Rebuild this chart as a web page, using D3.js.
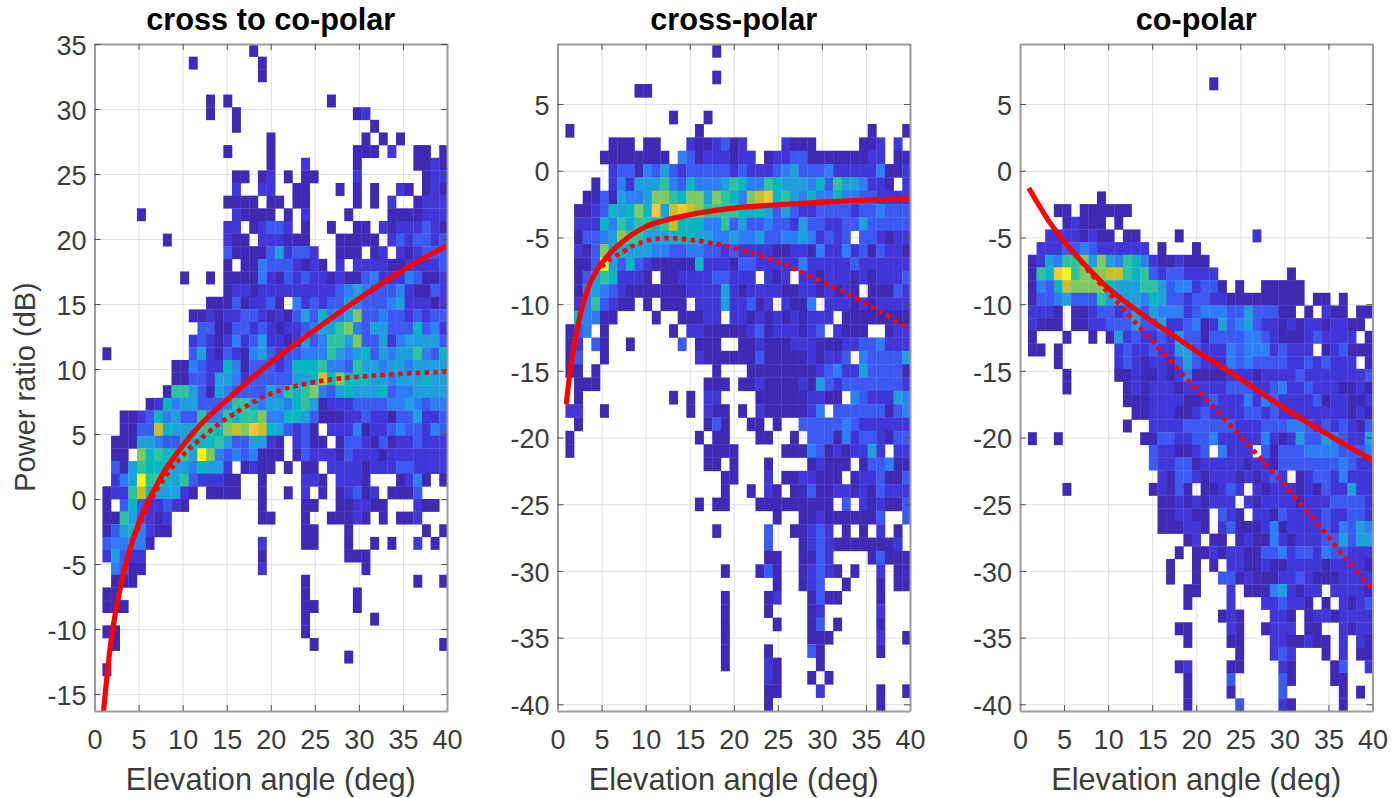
<!DOCTYPE html>
<html>
<head>
<meta charset="utf-8">
<script src="https://cdn.jsdelivr.net/npm/d3@7"></script>
<style>
body { margin: 0; background: #fff; }
text { font-family: "Liberation Sans", Arial, sans-serif; }
</style>
</head>
<body>
<svg width="1391" height="798"></svg>
<script>
// binned counts, 40 columns per row, top row first
// . = empty cell, 1..9,a,b = colour level (dark blue to yellow)
const crossToCoRows = [
"..... ..... ..... ..1.. ..... ..... ..... .....",
"..... ..... 1.... ...1. ..... ..... ..... .....",
"..... ..... ..... ...1. ..... ..... ..... .....",
"..... ..... ..... ..... ..... ..... ..... .....",
"..... ..... ..1.1 ..... ..... .1... ..... .....",
"..... ..... ..1.. 1.... ..... ....1 2.... .....",
"..... ..... ..... 1.... ..... ..... .1... .....",
"..... ..... ..... ....1 ..... ..... 1.1.1 .....",
"..... ..... ....1 ....1 ..... ....1 11.2. .11.1",
"..... ..... ..... ....1 ...2. ....1 ..... .1121",
"..... ..... ..... 11.12 .1.11 ....2 ..... ..122",
"..... ..... ..... 2..22 ..11. ..1.1 .1..2 1.121",
"..... ..... ....1 111.1 1.11. ....1 .1.2. .1222",
"....1 ..... ..... 21111 .1.2. ...1. ...11 11222",
"..... ..... ....2 2.123 32.1. .1..1 1.212 22321",
"..... ..1.. ....2 11.22 2111. ..111 11.23 23323",
"..... ..... ....3 11113 52332 ..111 .12.2 12333",
"..... ..... ....1 .1143 33212 1.2.2 22211 22223",
"..... ....1 ..1.1 11142 13232 21211 34222 43112",
"..... ..... ....1 22122 22222 22345 43334 21132",
"..... ..... ..111 31223 1.423 23354 33345 22212",
"..... ..... 11212 23321 21353 64458 33433 23233",
"..... ..... .3311 33232 12234 55784 35533 36342",
"..... ..... 23212 42352 21253 47758 33524 55553",
"1.... ..... 35213 21453 23344 47545 63545 57436",
"..... ...11 43226 41333 23666 74437 55455 45555",
"..... ...11 33255 42333 33556 96866 65545 55655",
"..... ..177 53154 33335 47678 43565 55634 45555",
"..... 12645 53334 77545 54675 12223 33344 54344",
"..112 36453 37447 67784 46653 11122 32213 35223",
"..113 39655 57768 98a96 53231 .2224 12234 33243",
".1115 54335 66675 33552 1.231 1.133 21312 23222",
".11.8 67667 5b843 43411 1.132 22132 22122 22222",
".3157 66655 46552 .1211 .1.11 .2222 12223 32222",
".245b 77657 32221 1..1. ...22 1.222 1...1 241.1",
"12279 65552 1.111 1..1. .1.2. 1.123 12.11 13...",
"1.363 22321 ..... ...1. ...11 ..112 211.. .211.",
"11753 212.. ..... ...11 ...1. .1112 1.1.1 12...",
"13564 211.. ..... ..... ...11 ...1. ..... ..1.1",
"34444 1.... ..... ...2. ...11 ...1. .1.1. .2.1.",
"25322 ..... ..... ...1. ..... ...11 1.... .....",
".4311 ..... ..... ...2. ..... ..... 1.... .....",
".111. ..... ..... ..... ...1. ..... ..... .1..1",
"11... ..... ..... ..... ...1. ....1 ..... .....",
"111.. ..... ..... ..... ...11 ....1 ..... .....",
"..... ..... ..... ..... ...1. ..... .1... .....",
"11... ..... ..... ..... ...1. ..... ..... .....",
".1... ..... ..... ..... ....1 ..... ..... ....1",
"..... ..... ..... ..... ..... ...1. ..... .....",
"1.... ..... ..... ..... ..... ..... ..... ....."
];

const crossPolarRows = [
"..... ..... ..... ..1.. ..... ..... ..... .....",
"..... ..... ..... ..... ..... ..... ..... .....",
"..... ..... ..... ..1.. ..... ..... ..... .....",
"..... ...11 ..... ..... ..... ..... ..... .....",
"..... ..... ..... ..... ..... ..... ..... .....",
"..... ..... ..1.. .1... ..... ..... ..... .....",
"1.... ..... ..... 1.... ..... ..... ..... 1...1",
"..... 111.1 1...2 11231 2.... 2111. ....1 12.2.",
"....1 11111 11.43 12221 22.12 23311 11111 22.11",
"..... 23314 35323 33332 32223 45333 42222 24112",
"...1. 24255 57436 44457 64476 55546 37554 221.2",
"..113 15445 88768 85876 489a6 75464 46443 32222",
".1123 65686 a59a9 87777 66653 53223 33323 34333",
".2226 47577 67966 64473 53343 32533 22335 33333",
".1334 58775 55666 55445 44533 44542 323.3 32122",
".2138 56555 44334 43323 22221 12214 22423 13221",
".113b 53632 11111 62221 33222 22422 22232 22222",
".1357 62221 .1122 22332 22.21 2.221 22212 12223",
".1454 32111 11112 22252 12222 11221 2121. 11132",
".2473 211.1 .111. 22252 2312. 2114. 22212 12222",
".6441 1.... 1..11 122.2 21212 12122 2.111 11111",
"134.1 ..... ..1.2 21111 12312 22123 .2111 ..122",
"12.31 ..1.. ...3. 111.. 11211 12221 11223 34222",
"13..1 ..... ..... 21111 11311 11121 223.4 33335",
"11.1. ..... ..... ..1.. .1111 11112 34225 33331",
".111. ..... ..... .111. 11211 11215 32333 33332",
".1... ..... ..1.1 .22.. ..111 11122 11.43 22254",
"22..1 ..... ....1 .211. 1.211 11124 .3333 33134",
".1... ..... ..... .131. .11.1 ..333 33432 22222",
"1.... ..... ..... 1.11. ..11. .1.33 31423 32133",
"1.... ..... ..... .1111 ..... 11143 12122 52.22",
"..... ..... ..... .11.1 ...1. ...12 111.1 33411",
"..... ..... ..... ...11 ...2. 11221 11.12 23113",
"..... ..... ..... ...1. .1.21 .1131 12212 13222",
"..... ..... ..... 1.11. ..111 11111 1.3.2 12113",
"..... ..... ..... ..... ....1 ..112 11111 13..3",
"..... ..... ..... ..1.. ...3. .1123 2.1.1 .2.1.",
"..... ..... ..... ..... ...3. ..123 21111 1112.",
"..... ..... ..... ..... ...11 ..113 2.... 13111",
"..... ..... ..... ...1. ..131 ..123 21.1. .2.11",
"..... ..... ..... ..... ....1 ..123 ..1.. .1.11",
"..... ..... ..... ...1. ...12 ...13 11... .1...",
"..... ..... ..... ...1. ...1. ...12 ..... .2...",
"..... ..... ..... ...1. ....1 ...13 .1... .1...",
"..... ..... ..... ...1. ..... ...11 1.... .2..1",
"..... ..... ..... ...1. ...1. ...31 ..... .1...",
"..... ..... ..... ...1. ...21 ....1 ..... .....",
"..... ..... ..... ..... ...21 ...1. 1.... .....",
"..... ..... ..... ..... ...11 ....2 ..... .1..1",
"..... ..... ..... ..... ...1. ..... ..... .1..."
];

const coPolarRows = [
"..... ..... ..... ..... ..... ..... ..... .....",
"..... ..... ..... ..... ..... ..... ..... .....",
"..... ..... ..... ..... .1... ..... ..... .....",
"..... ..... ..... ..... ..... ..... ..... .....",
"..... ..... ..... ..... ..... ..... ..... .....",
"..... ..... ..... ..... ..... ..... ..... .....",
"..... ..... ..... ..... ..... ..... ..... .....",
"..... ..... ..... ..... ..... ..... ..... .....",
"..... ..... ..... ..... ..... ..... ..... .....",
"..... ..... ..... ..... ..... ..... ..... .....",
"..... ..... ..... ..... ..... ..... ..... .....",
"..... ...1. ..... ..... ..... ..... ..... .....",
"...11 .1111 11... ..... ..... ..... ..... .....",
"....1 2111. 1.... ..... ..... ..... ..... .....",
"..222 21211 .11.. ..1.. ..... .2... ..... .....",
".2223 34322 2222. 1...1 ..... ..... ..... .....",
"12547 78585 47642 11211 1.... ..... ..... .....",
"176ab 78889 97673 23322 22... ..... 1.... .....",
"14369 88886 55577 53442 331.1 ..111 11... .....",
"13345 33375 55546 53323 32211 11111 11.11 .1...",
"2221. 11233 23535 44423 44433 53331 1.1.2 11.11",
"2111. 11223 33533 52234 12534 53221 21221 2211.",
"1...1 ..1.1 52322 32533 13333 44321 11232 222.1",
"11.1. ..... 23223 22553 22243 44423 222.1 23111",
"...1. ..... 23212 21353 22243 43333 22323 222.1",
"....1 ..... 11211 21241 11122 21222 23222 22223",
"....1 ..... .1212 22122 22233 32234 22322 21121",
"..... ..... .1112 22211 23222 42432 22231 22112",
"..... ..... ..112 22112 32222 33232 22222 22121",
"..... ..... .1..2 22233 33332 22333 44323 23213",
"1..1. ..... ...11 33223 34222 22421 25335 43225",
"..... ..... ....3 22112 3.422 2.313 33444 43334",
"..... ..... ....3 22331 22222 12213 33333 34322",
"..... ..... ..... 21332 12221 21232 .1233 24222",
"....1 ..... ....1 2131. 11232 .2122 21213 22522",
"..... ..... ..... 11212 1222. 21222 21222 33332",
"..... ..... ..... 11221 1.321 .2213 22223 22332",
"..... ..... ..... 11122 1.231 11241 22223 24354",
"..... ..... ..... ...12 .11.1 21142 12223 35355",
"..... ..... ..... ..1.1 12122 11334 23324 33222",
"..... ..... ..... .1..1 .1.22 11211 22221 22221",
"..... ..... ..... .1..1 ..331 21112 23211 12222",
"..... ..... ..... ...11 ...2. 11145 2122. 22221",
"..... ..... ..... ...1. ...2. ..223 221.1 .2123",
"..... ..... ..... ..... ..121 ...22 1.122 12222",
"..... ..... ..... ..11. ...21 ..122 2.11. .2122",
"..... ..... ..... ...1. ...11 ...22 11211 .2.21",
"..... ..... ..... ..... ....1 ...23 2...1 .2.11",
"..... ..... ..... ..12. ...11 ....2 1.... 13..2",
"..... ..... ..... ...1. ...3. ....3 1.... 11...",
"..... ..... ..... ...1. ...1. ....3 ..... .1.1.",
"..... ..... ..... ...1. ....3 ....2 1.... .1..."
];

// fitted curves, [elevation, dB]
const crossToCoSolid = [[1,-16.5],[2,-10.3],[3,-6.6],[4,-3.9],[5,-1.9],[6,-0.3],[7,1],[8,2.2],[9,3.2],[10,4.1],[12,5.7],[15,7.6],[20,10.5],[25,13],[30,15.4],[35,17.6],[40,19.5]];
const crossToCoDotted = [[4.4,-3],[5.75,-1.1],[6.9,0.5],[7.9,1.6],[8.9,2.5],[10.2,3.5],[11.8,4.5],[15,6.2],[20,8.1],[25,9],[31.7,9.5],[40,9.8]];
const crossPolarSolid = [[1,-17.5],[1.4,-15.2],[2,-12.7],[2.95,-9.9],[4,-8],[5,-6.95],[6.7,-5.7],[10,-4.2],[15,-3.3],[20,-2.8],[25,-2.55],[30,-2.35],[35,-2.2],[40,-2.1]];
const crossPolarDotted = [[5,-7.2],[5.6,-6.8],[7.1,-6.2],[8.8,-5.55],[10.5,-5.2],[12.4,-5.05],[14.7,-5.15],[17.7,-5.45],[21.5,-6.05],[24.9,-6.8],[27.2,-7.45],[30.6,-8.5],[33.4,-9.4],[37,-10.7],[40,-11.9]];
const coPolarSolid = [[1,-1.3],[3.2,-3.7],[5,-5.3],[7,-6.8],[10,-8.8],[12.5,-10.1],[15,-11.3],[17.5,-12.4],[20,-13.5],[25,-15.6],[30,-17.8],[35,-19.8],[40,-21.7]];
const coPolarDotted = [[5,-5.3],[6.4,-6.4],[8.3,-7.9],[10.4,-9.4],[12.5,-10.95],[15.2,-12.9],[18,-14.95],[20.8,-16.9],[22.9,-18.4],[25,-19.9],[27,-21.35],[29,-22.8],[31.1,-24.4],[33.7,-26.4],[36.9,-29],[40,-31.4]];

const xTicks = [0, 5, 10, 15, 20, 25, 30, 35, 40];
const yTicksRatio = [-15, -10, -5, 0, 5, 10, 15, 20, 25, 30, 35];
const yTicksPower = [-40, -35, -30, -25, -20, -15, -10, -5, 0, 5];

const panels = [
    { title: "cross to co-polar", rows: crossToCoRows, solid: crossToCoSolid, dotted: crossToCoDotted,
      left: 94.5, right: 447, yDomain: [-16.3, 35], yTicks: yTicksRatio, rowTop: 35, rowStep: 0.972 },
    { title: "cross-polar", rows: crossPolarRows, solid: crossPolarSolid, dotted: crossPolarDotted,
      left: 557.5, right: 910, yDomain: [-40.5, 9.5], yTicks: yTicksPower, rowTop: 9.5, rowStep: 1 },
    { title: "co-polar", rows: coPolarRows, solid: coPolarSolid, dotted: coPolarDotted,
      left: 1020, right: 1372.5, yDomain: [-40.5, 9.5], yTicks: yTicksPower, rowTop: 8.9, rowStep: 0.95 }
];

const top_ = 44, bottom = 711;
const colBinStart = 0.9, colBinStep = 0.98;

// parula-like ramp
const parula = d3.scaleLinear()
    .domain([1, 2, 3, 4, 5, 6, 7, 8, 9, 10, 11])
    .range(["#3e2ab4", "#4136d6", "#3d5af0", "#2e7ef6", "#1fa0dc", "#08b6c2", "#2ec39c", "#80c960", "#c8bf2e", "#fcc63a", "#f9fb15"]);

const svg = d3.select("svg");
const fontColor = "#3c3c3c";

panels.forEach((p, i) => {
    const x = d3.scaleLinear().domain([0, 40]).range([p.left, p.right]);
    const y = d3.scaleLinear().domain(p.yDomain).range([bottom, top_]);
    const g = svg.append("g");

    g.append("clipPath").attr("id", "clip" + i)
        .append("rect")
        .attr("x", p.left).attr("y", top_)
        .attr("width", p.right - p.left).attr("height", bottom - top_);

    /* ----------- grid ----------- */
    const grid = g.append("g").attr("class", "grid");
    grid.append("g")
        .attr("transform", `translate(0,${bottom})`)
        .call(d3.axisBottom(x).tickValues(xTicks).tickSize(top_ - bottom).tickFormat(""));
    grid.append("g")
        .attr("transform", `translate(${p.left},0)`)
        .call(d3.axisLeft(y).tickValues(p.yTicks).tickSize(p.left - p.right).tickFormat(""));
    grid.selectAll(".domain").remove();
    grid.selectAll("line").attr("stroke", "#e2e2e2").attr("stroke-width", 1);

    /* ----------- cells ----------- */
    const cells = [];
    p.rows.forEach((row, r) => {
        row.replace(/ /g, "").split("").forEach((ch, c) => {
            if (ch !== ".") cells.push({ r: r, c: c, v: parseInt(ch, 16) });
        });
    });
    g.append("g").attr("clip-path", `url(#clip${i})`)
        .selectAll("rect").data(cells).enter().append("rect")
        .attr("x", d => x(colBinStart + d.c * colBinStep))
        .attr("y", d => y(p.rowTop - d.r * p.rowStep))
        .attr("width", x(colBinStep) - x(0) + 0.3)
        .attr("height", y(0) - y(p.rowStep) + 0.3)
        .attr("fill", d => parula(d.v));

    /* ----------- curves ----------- */
    const line = d3.line().x(d => x(d[0])).y(d => y(d[1])).curve(d3.curveCatmullRom.alpha(0.5));
    const curves = g.append("g").attr("clip-path", `url(#clip${i})`);
    curves.append("path").datum(p.dotted)
        .attr("d", line).attr("fill", "none").attr("stroke", "#ff0000")
        .attr("stroke-width", 4.6).attr("stroke-dasharray", "4.4 4.4");
    curves.append("path").datum(p.solid)
        .attr("d", line).attr("fill", "none").attr("stroke", "#ff0000")
        .attr("stroke-width", 5.2);

    /* ----------- axes ----------- */
    const styleAxis = sel => {
        sel.selectAll(".domain").attr("stroke", "#9c9c9c").attr("stroke-width", 2);
        sel.selectAll("line").attr("stroke", "#505050");
        sel.selectAll("text").attr("fill", fontColor).attr("font-size", 27);
    };
    g.append("g").attr("transform", `translate(0,${bottom})`)
        .call(d3.axisBottom(x).tickValues(xTicks).tickSize(-6).tickPadding(19).tickSizeOuter(0))
        .call(styleAxis);
    g.append("g").attr("transform", `translate(0,${top_})`)
        .call(d3.axisTop(x).tickValues(xTicks).tickSize(-6).tickFormat("").tickSizeOuter(0))
        .call(styleAxis);
    g.append("g").attr("transform", `translate(${p.left},0)`)
        .call(d3.axisLeft(y).tickValues(p.yTicks).tickSize(-6).tickPadding(8).tickSizeOuter(0))
        .call(styleAxis)
        .selectAll("text").attr("dy", "0.38em");
    g.append("g").attr("transform", `translate(${p.right},0)`)
        .call(d3.axisRight(y).tickValues(p.yTicks).tickSize(-6).tickFormat("").tickSizeOuter(0))
        .call(styleAxis);
    g.selectAll("text").each(function () {
        const t = d3.select(this);
        t.text(t.text().replace("\u2212", "-"));
    });

    /* ----------- titles ----------- */
    const cx = (p.left + p.right) / 2;
    g.append("text").attr("x", cx).attr("y", 30)
        .attr("text-anchor", "middle").attr("font-size", 30.7).attr("font-weight", "bold")
        .attr("fill", "#000").text(p.title);
    g.append("text").attr("x", cx).attr("y", 790)
        .attr("text-anchor", "middle").attr("font-size", 30.7)
        .attr("fill", fontColor).text("Elevation angle (deg)");
});

svg.append("text")
    .attr("transform", "translate(35,387) rotate(-90)")
    .attr("text-anchor", "middle").attr("font-size", 29)
    .attr("fill", fontColor).text("Power ratio (dB)");
</script>
</body>
</html>
